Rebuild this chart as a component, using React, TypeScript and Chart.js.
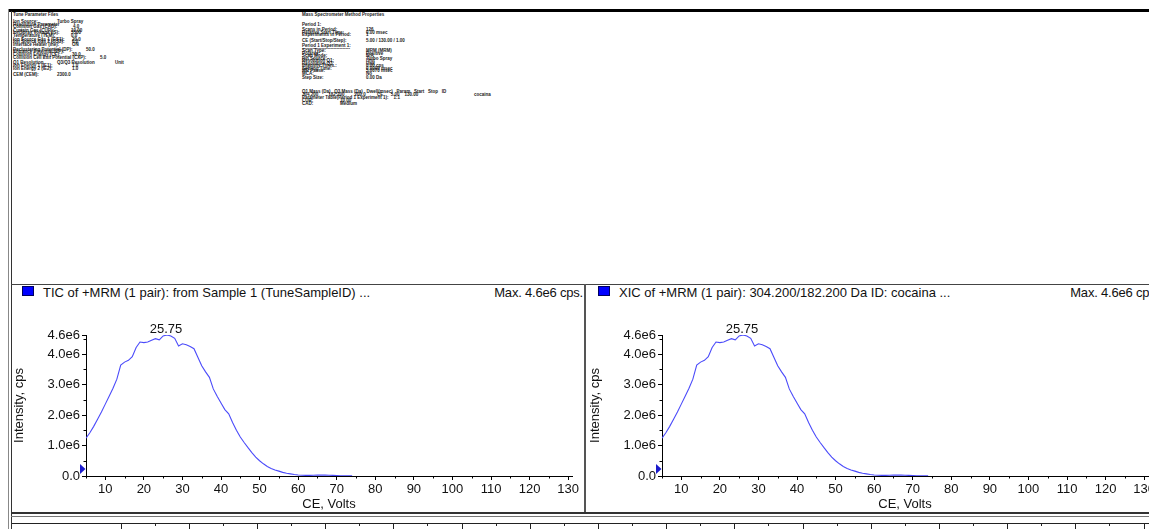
import React, { useEffect, useRef } from 'react';
import { Chart, registerables } from 'chart.js';

Chart.register(...registerables);

// ---------------- data ----------------
const ceVolts = [
  5, 6, 7, 8, 9, 10, 11, 12, 13, 14, 15, 16, 17, 18, 19, 20, 21, 22, 23, 24,
  25, 26, 27, 28, 29, 30, 31, 32, 33, 34, 35, 36, 37, 38, 39, 40, 41, 42, 43, 44,
  45, 46, 47, 48, 49, 50, 51, 52, 53, 54, 55, 56, 57, 58, 59, 60, 61, 62, 63, 64,
  65, 66, 67, 68, 69, 70, 71, 72, 73, 74,
];

const ticIntensity = [
  1.24e6, 1.42e6, 1.63e6, 1.86e6, 2.1e6, 2.36e6, 2.62e6, 2.88e6, 3.18e6, 3.64e6,
  3.74e6, 3.8e6, 3.92e6, 4.22e6, 4.4e6, 4.38e6, 4.4e6, 4.46e6, 4.51e6, 4.47e6,
  4.6e6, 4.63e6, 4.6e6, 4.52e6, 4.27e6, 4.34e6, 4.31e6, 4.25e6, 4.18e6, 3.9e6,
  3.62e6, 3.42e6, 3.24e6, 2.86e6, 2.62e6, 2.4e6, 2.18e6, 2.04e6, 1.76e6, 1.5e6,
  1.28e6, 1.1e6, 0.93e6, 0.77e6, 0.62e6, 0.5e6, 0.4e6, 0.31e6, 0.25e6, 0.2e6,
  0.16e6, 0.12e6, 0.09e6, 0.07e6, 0.05e6, 0.035e6, 0.025e6, 0.02e6, 0.02e6, 0.025e6,
  0.03e6, 0.03e6, 0.03e6, 0.025e6, 0.02e6, 0.015e6, 0.01e6, 0.008e6, 0.005e6, 0.003e6,
];

const xicIntensity = [
  1.24e6, 1.42e6, 1.63e6, 1.86e6, 2.1e6, 2.36e6, 2.62e6, 2.88e6, 3.18e6, 3.64e6,
  3.74e6, 3.8e6, 3.92e6, 4.22e6, 4.4e6, 4.38e6, 4.4e6, 4.46e6, 4.51e6, 4.47e6,
  4.6e6, 4.63e6, 4.6e6, 4.52e6, 4.27e6, 4.34e6, 4.31e6, 4.25e6, 4.18e6, 3.9e6,
  3.62e6, 3.42e6, 3.24e6, 2.86e6, 2.62e6, 2.4e6, 2.18e6, 2.04e6, 1.76e6, 1.5e6,
  1.28e6, 1.1e6, 0.93e6, 0.77e6, 0.62e6, 0.5e6, 0.4e6, 0.31e6, 0.25e6, 0.2e6,
  0.16e6, 0.12e6, 0.09e6, 0.07e6, 0.05e6, 0.035e6, 0.025e6, 0.02e6, 0.02e6, 0.025e6,
  0.03e6, 0.03e6, 0.03e6, 0.025e6, 0.02e6, 0.015e6, 0.01e6, 0.008e6, 0.005e6, 0.003e6,
];

const xMajorTicks = [10, 20, 30, 40, 50, 60, 70, 80, 90, 100, 110, 120, 130];
const xTickLabels = ['10', '20', '30', '40', '50', '60', '70', '80', '90', '100', '110', '120', '130'];
const xMinorTicks = [5, 15, 25, 35, 45, 55, 65, 75, 85, 95, 105, 115, 125];
const yMajorTicks = [0, 1e6, 2e6, 3e6, 4e6, 4.63e6];
const yTickLabels = ['0.0', '1.0e6', '2.0e6', '3.0e6', '4.0e6', '4.6e6'];
const yMinorTicks = [0.5e6, 1.5e6, 2.5e6, 3.5e6, 4.5e6];
const xMin = 5;
const xMax = 131;
const yMax = 4.63e6;
const peakCE = 25.75;
const peakLabel = '25.75';
const thresholdMarker = 0.23e6;

const ticTitle = 'TIC of +MRM (1 pair): from Sample 1 (TuneSampleID) ...';
const xicTitle = 'XIC of +MRM (1 pair): 304.200/182.200 Da ID: cocaina ...';
const maxText = 'Max. 4.6e6 cps.';

const FONT = '"Liberation Sans", Arial, sans-serif';

// ---------------- chart ----------------
function makeDecor(series: number[]) {
  return {
    id: 'decor',
    afterDraw(chart: any) {
      const { ctx } = chart;
      const xs = chart.scales.x;
      const ys = chart.scales.y;
      ctx.save();
      ctx.strokeStyle = '#000';
      ctx.lineWidth = 1;
      ctx.beginPath();
      xMinorTicks.forEach((v) => {
        const px = Math.round(xs.getPixelForValue(v)) + 0.5;
        ctx.moveTo(px, ys.bottom);
        ctx.lineTo(px, ys.bottom + 2.5);
      });
      yMinorTicks.forEach((v) => {
        const py = Math.round(ys.getPixelForValue(v)) + 0.5;
        ctx.moveTo(xs.left, py);
        ctx.lineTo(xs.left - 2.5, py);
      });
      ctx.stroke();

      // threshold marker
      const ty = ys.getPixelForValue(thresholdMarker);
      ctx.fillStyle = '#1a1acc';
      ctx.beginPath();
      ctx.moveTo(xs.left - 6, ty - 5);
      ctx.lineTo(xs.left - 0.5, ty);
      ctx.lineTo(xs.left - 6, ty + 5);
      ctx.closePath();
      ctx.fill();

      // peak label
      const peakVal = Math.max(...series);
      ctx.fillStyle = '#111';
      ctx.font = `13px ${FONT}`;
      ctx.textAlign = 'center';
      ctx.textBaseline = 'alphabetic';
      ctx.fillText(peakLabel, xs.getPixelForValue(peakCE), ys.getPixelForValue(peakVal) - 2.5);
      ctx.restore();
    },
  };
}

function makeConfig(series: number[]): any {
  return {
    type: 'line',
    data: {
      datasets: [
        {
          data: ceVolts.map((x, i) => ({ x, y: series[i] })),
          borderColor: 'rgb(75,75,250)',
          borderWidth: 1.1,
          pointRadius: 0,
          tension: 0,
          fill: false,
        },
      ],
    },
    options: {
      animation: false,
      responsive: false,
      maintainAspectRatio: false,
      events: [],
      layout: { padding: { top: 35, right: 13, left: 0, bottom: 0 } },
      plugins: { legend: { display: false }, tooltip: { enabled: false }, title: { display: false } },
      scales: {
        x: {
          type: 'linear',
          min: xMin,
          max: xMax,
          afterBuildTicks: (s: any) => {
            s.ticks = [...xMinorTicks, ...xMajorTicks].sort((a, b) => a - b).map((v) => ({ value: v }));
          },
          afterFit: (s: any) => {
            s.height = 36;
          },
          ticks: {
            autoSkip: false,
            maxRotation: 0,
            padding: 2,
            color: '#111',
            font: { family: FONT, size: 13 },
            callback: (v: any) => {
              const i = xMajorTicks.indexOf(Number(v));
              return i >= 0 ? xTickLabels[i] : '';
            },
          },
          grid: {
            drawOnChartArea: false,
            drawTicks: true,
            tickLength: 4,
            tickColor: (c: any) => (c.tick && xMajorTicks.indexOf(c.tick.value) >= 0 ? '#000' : 'rgba(0,0,0,0)'),
          },
          border: { display: true, color: '#000', width: 1 },
          title: {
            display: true,
            text: 'CE, Volts',
            color: '#111',
            font: { family: FONT, size: 13 },
            padding: { top: 0, bottom: 0 },
          },
        },
        y: {
          type: 'linear',
          min: 0,
          max: yMax,
          afterBuildTicks: (s: any) => {
            s.ticks = [...yMajorTicks, ...yMinorTicks].sort((a, b) => a - b).map((v) => ({ value: v }));
          },
          afterFit: (s: any) => {
            s.width = 75;
          },
          ticks: {
            autoSkip: false,
            padding: 2,
            color: '#111',
            font: { family: FONT, size: 13 },
            callback: (v: any) => {
              const i = yMajorTicks.indexOf(Number(v));
              return i >= 0 ? yTickLabels[i] : '';
            },
          },
          grid: {
            drawOnChartArea: false,
            drawTicks: true,
            tickLength: 4,
            tickColor: (c: any) => (c.tick && yMajorTicks.indexOf(c.tick.value) >= 0 ? '#000' : 'rgba(0,0,0,0)'),
          },
          border: { display: true, color: '#000', width: 1 },
          title: {
            display: true,
            text: 'Intensity, cps',
            color: '#111',
            font: { family: FONT, size: 13 },
            padding: { top: 1, bottom: 0 },
          },
        },
      },
    },
    plugins: [makeDecor(series)],
  };
}

function ChartPanel({ left, title, series }: { left: number; title: string; series: number[] }) {
  const ref = useRef<HTMLCanvasElement | null>(null);
  useEffect(() => {
    if (!ref.current) return;
    const chart = new Chart(ref.current, makeConfig(series));
    return () => chart.destroy();
  }, [series]);
  return (
    <div style={{ position: 'absolute', left, top: 285, width: 574, height: 227 }}>
      <div
        style={{
          position: 'absolute',
          left: 11,
          top: 1,
          width: 10,
          height: 8,
          background: '#0000ff',
          border: '0.5px solid #000060',
        }}
      />
      <div
        style={{
          position: 'absolute',
          left: 32,
          top: 0,
          font: `13px ${FONT}`,
          lineHeight: '15px',
          color: '#111',
          whiteSpace: 'pre',
        }}
      >
        {title}
      </div>
      <div
        style={{
          position: 'absolute',
          right: 2,
          top: 0,
          font: `13px ${FONT}`,
          letterSpacing: '-0.2px',
          lineHeight: '15px',
          color: '#111',
          whiteSpace: 'pre',
        }}
      >
        {maxText}
      </div>
      <canvas
        ref={ref}
        width={574}
        height={212}
        style={{ position: 'absolute', left: 0, top: 15, width: 574, height: 212 }}
      />
    </div>
  );
}

// ---------------- header text (report area) ----------------
type Line = [number, string, number?, string?, number?, string?];
const leftInfo: Line[] = [
  [14, 'Tune Parameter Files'],
  [20.5, 'Ion Source:', 57, 'Turbo Spray'],
  [23.5, 'Resolution Parameter'],
  [26, 'Collision Gas (CAD):', 73, '4.0'],
  [29.5, 'Curtain Gas (CUR):', 71, '10.00'],
  [32, 'IonSpray Voltage (IS):', 71, '5500'],
  [34.5, 'Temperature (TEM):', 71, '0.0'],
  [38.5, 'Ion Source Gas 1 (GS1):', 72, '20.0'],
  [41, 'Ion Source Gas 2 (GS2):', 72, '0.0'],
  [43.5, 'Interface Heater (ihe):', 72, 'ON'],
  [48.5, 'Declustering Potential (DP):', 86, '50.0'],
  [51, 'Entrance Potential (EP):'],
  [53.5, 'Collision Energy (CE):', 72, '30.0'],
  [57, 'Collision Cell Exit Potential (CXP):', 100, '5.0'],
  [62, 'Q1 Resolution', 57, 'Q3/Q3 Resolution', 115, 'Unit'],
  [65, 'Ion Energy 1 (IE1):', 72, '1.0'],
  [67.5, 'Ion Energy 2 (IE2):', 72, '1.0'],
  [74, 'CEM (CEM):', 57, '2300.0'],
];
const rightInfo: Line[] = [
  [14, 'Mass Spectrometer Method Properties'],
  [24, 'Period 1:'],
  [29, 'Scans in Period:', 366, '126'],
  [31.5, 'Relative Start Time:', 366, '0.00 msec'],
  [34, 'Experiments in Period:', 366, '1'],
  [40, 'CE (Start/Stop/Step):', 366, '5.00 / 130.00 / 1.00'],
  [44.5, 'Period 1 Experiment 1:'],
  [48, '--------------------------------'],
  [50, 'Scan Type:', 366, 'MRM (MRM)'],
  [52.5, 'Polarity:', 366, 'Positive'],
  [55, 'Scan Mode:', 366, 'N/A'],
  [57.5, 'Ion Source:', 366, 'Turbo Spray'],
  [60, 'Resolution Q1:', 366, 'Unit'],
  [62.5, 'Resolution Q3:', 366, 'Unit'],
  [65, 'Intensity Thres.:', 366, '0.00 cps'],
  [67.5, 'Settling Time:', 366, '0.0000 msec'],
  [70, 'MR Pause:', 366, '5.0070 msec'],
  [72.5, 'MCA:', 366, 'No'],
  [76.5, 'Step Size:', 366, '0.00 Da'],
  [91, 'Q1 Mass (Da)   Q3 Mass (Da)   Dwell(msec)   Param   Start   Stop   ID'],
  [94, '304.200        182.200        200.0         CE      5.00    130.00', 474, 'cocaina'],
  [96.5, 'Parameter Table(Period 1 Experiment 1):    1:1'],
  [99.5, 'CUR:', 340, '10.00'],
  [102.5, 'CAD:', 340, 'Medium'],
];

function InfoBlock({ x, lines }: { x: number; lines: Line[] }) {
  const st = (left: number, top: number): React.CSSProperties => ({
    position: 'absolute',
    left,
    top: top - 1,
    font: `bold 4.5px ${FONT}`,
    lineHeight: '4.5px',
    color: '#1a1a1a',
    whiteSpace: 'pre',
  });
  return (
    <>
      {lines.map((l, i) => (
        <React.Fragment key={i}>
          <div style={st(x, l[0])}>{l[1]}</div>
          {l[2] !== undefined && <div style={st(l[2], l[0])}>{l[3]}</div>}
          {l[4] !== undefined && <div style={st(l[4], l[0])}>{l[5]}</div>}
        </React.Fragment>
      ))}
    </>
  );
}

function BottomStrip() {
  const ticks: React.ReactNode[] = [];
  for (let k = 0; k < 31; k++) {
    const xPos = 120.5 + k * 34.1;
    ticks.push(
      <div
        key={k}
        style={{
          position: 'absolute',
          left: Math.round(xPos),
          top: 523,
          width: 1,
          height: k % 2 === 0 ? 6 : 3,
          background: '#222',
        }}
      />
    );
  }
  return (
    <>
      <div style={{ position: 'absolute', left: 11, top: 516, width: 1138, height: 1, background: '#777' }} />
      <div style={{ position: 'absolute', left: 12, top: 523, width: 1137, height: 1, background: '#222' }} />
      {ticks}
    </>
  );
}

export default function App() {
  return (
    <div
      style={{
        position: 'absolute',
        left: 0,
        top: 0,
        width: 1149,
        height: 529,
        overflow: 'hidden',
        background: '#fff',
      }}
    >
      {/* frame */}
      <div style={{ position: 'absolute', left: 8, top: 9, width: 1141, height: 3, background: '#000' }} />
      <div style={{ position: 'absolute', left: 8, top: 9, width: 1, height: 520, background: '#888' }} />
      <div style={{ position: 'absolute', left: 11, top: 11, width: 1, height: 518, background: '#333' }} />
      <div style={{ position: 'absolute', left: 11, top: 284, width: 1138, height: 1, background: '#444' }} />
      <div style={{ position: 'absolute', left: 584, top: 284, width: 2, height: 229, background: '#555' }} />
      <div style={{ position: 'absolute', left: 11, top: 512, width: 1138, height: 2, background: '#333' }} />

      <InfoBlock x={13} lines={leftInfo} />
      <InfoBlock x={302} lines={rightInfo} />

      <ChartPanel left={11} title={ticTitle} series={ticIntensity} />
      <ChartPanel left={587} title={xicTitle} series={xicIntensity} />

      <BottomStrip />
    </div>
  );
}
